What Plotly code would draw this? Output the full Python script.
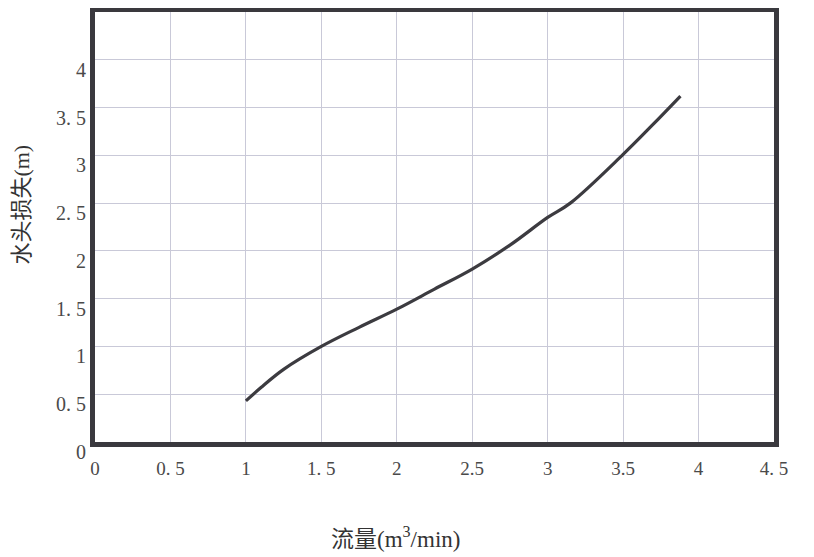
import plotly.graph_objects as go

# Flow (m3/min) and head loss (m)
flow = [1.0, 1.1, 1.25, 1.5, 1.75, 2.0, 2.25, 2.5, 2.75, 3.0, 3.15, 3.5, 3.69, 3.88]
head_loss = [0.43, 0.57, 0.76, 1.0, 1.2, 1.39, 1.60, 1.81, 2.06, 2.35, 2.5, 3.01, 3.31, 3.62]

x_tick_vals = [0, 0.5, 1, 1.5, 2, 2.5, 3, 3.5, 4, 4.5]
x_tick_text = ["0", "0. 5", "1", "1. 5", "2", "2.5", "3", "3.5", "4", "4. 5"]
y_tick_vals = [0, 0.5, 1, 1.5, 2, 2.5, 3, 3.5, 4]
y_tick_text = ["0", "0. 5", "1", "1. 5", "2", "2. 5", "3", "3. 5", "4"]

x_title = "流量(m<sup>3</sup>/min)"
y_title = "水头损失(m)"

serif = "Liberation Serif, DejaVu Serif, serif"
title_font = "Liberation Serif, Noto Sans CJK SC, serif"

# page has an 8px body offset; sizes chosen so the figure fills the 814x557 window
W, H = 806, 549
L, R, T, B = 86.5, 39.5, 4, 115

fig = go.Figure()
fig.add_trace(go.Scatter(
    x=flow, y=head_loss, mode="lines",
    line=dict(color="#3c3b40", width=3.2, shape="spline", smoothing=1.0),
    showlegend=False, hoverinfo="skip",
))

fig.update_layout(
    width=W, height=H,
    margin=dict(l=L, r=R, t=T, b=B, autoexpand=False),
    paper_bgcolor="white", plot_bgcolor="white",
    font=dict(family=serif, color="#333333"),
)
fig.update_xaxes(
    range=[0, 4.5], tickvals=x_tick_vals, ticktext=x_tick_text,
    showgrid=True, gridcolor="#c9c9d8", gridwidth=1,
    showline=True, linecolor="#3a393e", linewidth=5, mirror=True,
    zeroline=False, ticks="", ticklabelstandoff=5,
    tickfont=dict(size=19, family=serif, color="#4a4a4a"),
)
fig.update_yaxes(
    range=[0, 4.5], tickvals=y_tick_vals, ticktext=y_tick_text,
    showgrid=True, gridcolor="#c9c9d8", gridwidth=1,
    showline=True, linecolor="#3a393e", linewidth=5, mirror=True,
    zeroline=False, ticks="", ticklabelshift=10, ticklabelstandoff=0,
    tickfont=dict(size=20, family=serif, color="#4a4a4a"),
)

pw = W - L - R
ph = H - T - B
# x title centred at page (395, 537); y title centred at page (20, 205)
fig.add_annotation(
    text=x_title, xref="paper", yref="paper",
    x=(395 - 8 - L) / pw, y=(H - B - (537 - 8)) / ph,
    xanchor="center", yanchor="middle", showarrow=False,
    font=dict(size=23, family=title_font, color="#333333"),
)
fig.add_annotation(
    text=y_title, xref="paper", yref="paper",
    x=(20 - 8 - L) / pw, y=(H - B - (205 - 8)) / ph,
    xanchor="center", yanchor="middle", textangle=-90, showarrow=False,
    font=dict(size=22, family=title_font, color="#333333"),
)

fig.write_html("out.html")
